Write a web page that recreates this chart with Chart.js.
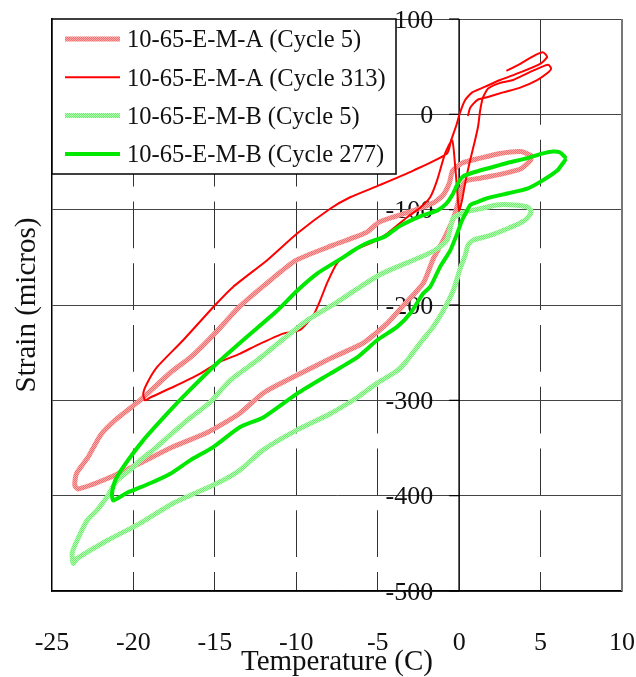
<!DOCTYPE html>
<html>
<head>
<meta charset="utf-8">
<script src="https://cdn.jsdelivr.net/npm/chart.js@4.4.0/dist/chart.umd.min.js"></script>
<style>
  html, body { margin: 0; padding: 0; background: #fff; }
  #wrap { width: 636px; height: 677px; position: relative; }
</style>
</head>
<body>
<div id="wrap"><canvas id="chart"></canvas></div>
<script>
// series names
const seriesNames = [
  "10-65-E-M-A (Cycle 5)",
  "10-65-E-M-A (Cycle 313)",
  "10-65-E-M-B (Cycle 5)",
  "10-65-E-M-B (Cycle 277)",
];

// 10-65-E-M-A, cycle 5 (temperature C / strain micros)
const aC5Temp = [4.4, 3.8, 2.5, 1.3, 0.2, -0.4, -0.6, -1.0, -1.6, -2.8, -4.9, -5.7, -7.7, -10.0, -11.8, -13.5, -14.9, -16.5, -17.6, -19.6, -21.0, -22.0, -22.8, -23.5, -23.6, -23.4,
  -21.6, -19.6, -17.6, -15.5, -13.5, -12.0, -10.0, -7.9, -5.9, -4.4, -3.4, -2.2, -1.6, -1.0, -0.4, -0.1, 0.1, 0.4, 1.3, 2.5, 3.8, 4.4, 4.4];
const aC5Strain = [-43, -39, -41, -46, -51, -59, -72, -85, -93, -101, -113, -124, -137, -153, -177, -202, -228, -255, -269, -300, -319, -336, -360, -377, -389, -393,
  -382, -366, -349, -334, -314, -292, -274, -256, -240, -219, -200, -177, -152, -133, -111, -95, -80, -70, -67, -63, -57, -48, -43];

// 10-65-E-M-A, cycle 313
const aC313Temp = [2.95, 3.75, 4.67, 5.16, 5.4, 4.97, 3.75, 2.52, 1.6, 0.8, 0.37, 0.06, -0.18, -0.49, -0.74, -2.82, -4.85, -6.69, -7.92, -9.95,
  -11.79, -13.88, -14.98, -16.95, -18.54, -19.16, -19.4, -19.28, -18.97, -17.56, -15.9, -14.86, -13.45, -12.4, -10.81, -9.76, -8.96, -8.53, -8.11, -7.49,
  -6.51, -5.28, -4.42, -3.19, -2.39, -1.78, -1.35, -0.86, -0.43, -0.25, -0.12, 0, 0.18, 0.37, 0.68, 0.98, 1.17, 1.29, 1.47, 1.78,
  2.52, 3.32, 4.18, 4.97, 5.47, 5.65, 5.4, 4.79, 3.75, 2.7, 1.72, 1.11, 0.68, 0.55];
const aC313Strain = [46, 53, 62, 65, 60, 53, 44, 36, 29, 23, 15, 2, -12, -27, -41, -59, -74, -87, -99, -125,
  -153, -181, -200, -237, -265, -282, -293, -300, -297, -286, -272, -261, -251, -242, -230, -226, -211, -195, -177, -156,
  -143, -134, -125, -108, -98, -87, -69, -41, -27, -53, -80, -101, -90, -72, -48, -27, -12, 4, 18, 27,
  33, 36, 43, 49, 52, 48, 43, 36, 28, 23, 18, 15, 7, -1];

// 10-65-E-M-B, cycle 5
const bC5Temp = [4.42, 4.18, 3.32, 2.33, 1.29, 0.25, -0.37, -0.55, -0.74, -1.35, -2.39, -3.81, -4.85, -6.08, -7.49, -9.33, -10.81, -12.4, -14.06, -15.29,
  -16.7, -17.93, -18.79, -19.59, -20.2, -21.0, -21.61, -22.22, -22.84, -23.46, -23.76, -23.7,
  -23.46, -21.61, -19.59, -17.56, -14.86, -13.45, -12.03, -9.95, -7.92, -6.26, -5.04, -3.81, -3.19, -2.39, -1.6, -0.98, -0.37, 0.06,
  0.37, 0.55, 0.86, 1.9, 2.95, 3.75, 4.18, 4.42];
const bC5Strain = [-101, -97, -95, -95, -99, -103, -109, -120, -132, -141, -150, -160, -168, -181, -197, -216, -236, -258, -279, -302,
  -321, -339, -352, -363, -373, -384, -401, -415, -426, -447, -460, -471,
  -466, -447, -429, -408, -387, -373, -352, -331, -314, -297, -282, -269, -258, -240, -223, -206, -185, -162,
  -148, -137, -132, -127, -120, -114, -109, -103];

// 10-65-E-M-B, cycle 277
const bC277Temp = [6.51, 6.2, 5.77, 5.16, 4.18, 2.95, 1.9, 0.86, 0.25, -0.06, -0.43, -0.8, -1.35, -2.39, -3.62, -4.54, -5.65, -6.51, -7.12, -8.72,
  -9.95, -11.18, -13.08, -14.67, -16.7, -17.93, -19.4, -20.63, -21.12, -21.31, -21.25,
  -20.39, -18.97, -17.74, -16.52, -15.1, -13.45, -12.03, -9.95, -7.92, -6.26, -5.04, -3.81, -3.01, -2.21, -1.78, -1.17, -0.55, -0.12, 0.18,
  0.49, 0.68, 1.11, 1.72, 2.95, 4.18, 5.16, 6.02, 6.51];
const bC277Strain = [-45, -40, -39, -41, -46, -51, -56, -61, -65, -72, -85, -94, -101, -107, -117, -128, -135, -143, -150, -167,
  -185, -206, -234, -258, -292, -314, -342, -370, -384, -397, -405,
  -397, -387, -377, -363, -349, -328, -318, -293, -272, -255, -237, -223, -209, -188, -181, -160, -143, -125, -111,
  -101, -95, -92, -88, -83, -78, -69, -59, -48];

const serif = "'Liberation Serif', 'DejaVu Serif', serif";
const textColor = "#111";

function toPoints(t, s) {
  return t.map((x, i) => ({ x: x, y: s[i] }));
}

// little checker texture, like the hatched thick lines of the original
function dither(c1, c2) {
  const c = document.createElement("canvas");
  c.width = 2;
  c.height = 2;
  const g = c.getContext("2d");
  g.fillStyle = c1;
  g.fillRect(0, 0, 2, 2);
  g.fillStyle = c2;
  g.fillRect(1, 0, 1, 1);
  g.fillRect(0, 1, 1, 1);
  return g.createPattern(c, "repeat");
}

function line(ctx, x1, y1, x2, y2) {
  ctx.beginPath();
  ctx.moveTo(x1, y1);
  ctx.lineTo(x2, y2);
  ctx.stroke();
}

// axis at 0 C, right frame, y labels next to the axis, boxed legend
const frameAndLabels = {
  id: "frameAndLabels",
  beforeDatasetsDraw(chart) {
    const { ctx, chartArea: a, scales } = chart;
    const x0 = scales.x.getPixelForValue(0);
    const xr = scales.x.getPixelForValue(10);
    ctx.save();
    ctx.strokeStyle = "#777";
    ctx.lineWidth = 2;
    line(ctx, xr, a.top, xr, a.bottom);
    ctx.strokeStyle = "#000";
    ctx.lineWidth = 1.5;
    line(ctx, x0, a.top, x0, a.bottom);
    ctx.font = "26px " + serif;
    ctx.fillStyle = textColor;
    ctx.textAlign = "right";
    ctx.textBaseline = "middle";
    scales.y.ticks.forEach((t) => {
      const py = scales.y.getPixelForValue(t.value);
      ctx.lineWidth = 1.2;
      line(ctx, x0 - 10, py, x0, py);
      ctx.fillText(t.label, x0 - 26, py + 2);
    });
    ctx.restore();
  },
  afterDraw(chart) {
    const { ctx, chartArea: a } = chart;
    ctx.save();
    ctx.fillStyle = "#fff";
    ctx.fillRect(a.left, a.top, 344, 155);
    ctx.strokeStyle = "#000";
    ctx.lineWidth = 1.5;
    ctx.strokeRect(a.left, a.top, 344, 155);
    ctx.font = "24.5px " + serif;
    ctx.textAlign = "left";
    ctx.textBaseline = "middle";
    chart.data.datasets.forEach((ds, i) => {
      const ly = a.top + 20 + i * 38.3;
      ctx.strokeStyle = ds.borderColor;
      ctx.lineWidth = ds.borderWidth;
      line(ctx, a.left + 13, ly, a.left + 68, ly);
      ctx.fillStyle = textColor;
      ctx.fillText(ds.label, a.left + 75, ly + 2);
    });
    ctx.restore();
  },
};

const canvas = document.getElementById("chart");
const lightRed = dither("#f07070", "#ffaaaa");
const lightGreen = dither("#70ec70", "#b4ffb4");

new Chart(canvas, {
  type: "scatter",
  data: {
    datasets: [
      { label: seriesNames[0], data: toPoints(aC5Temp, aC5Strain), borderColor: lightRed, borderWidth: 5, order: 4 },
      { label: seriesNames[1], data: toPoints(aC313Temp, aC313Strain), borderColor: "#ff0000", borderWidth: 2, order: 3 },
      { label: seriesNames[2], data: toPoints(bC5Temp, bC5Strain), borderColor: lightGreen, borderWidth: 5, order: 2 },
      { label: seriesNames[3], data: toPoints(bC277Temp, bC277Strain), borderColor: "#00e800", borderWidth: 4, order: 1 },
    ],
  },
  options: {
    responsive: true,
    maintainAspectRatio: false,
    animation: false,
    showLine: true,
    layout: { padding: { top: 19, right: 14, left: 0, bottom: 0 } },
    elements: {
      point: { radius: 0, hoverRadius: 0 },
      line: { tension: 0.2, borderJoinStyle: "round", borderCapStyle: "round" },
    },
    plugins: {
      legend: { display: false },
      tooltip: { enabled: false },
    },
    scales: {
      x: {
        type: "linear",
        position: "bottom",
        min: -25,
        max: 10,
        afterFit: (s) => { s.height = 86; },
        ticks: {
          stepSize: 5,
          autoSkip: false,
          maxRotation: 0,
          padding: 0,
          color: textColor,
          font: { family: serif, size: 26 },
        },
        grid: {
          drawTicks: true,
          tickLength: 37,
          tickColor: "rgba(0,0,0,0)",
          lineWidth: 1,
          color: (c) => ([-25, 0, 10].includes(c.tick && c.tick.value) ? "rgba(0,0,0,0)" : "#333"),
        },
        border: { display: true, color: "#000", width: 1.5, dash: [46.75, 15], dashOffset: 2.75 },
        title: {
          display: true,
          text: "Temperature (C)",
          color: textColor,
          font: { family: serif, size: 29 },
          padding: { top: 0, bottom: -3 },
        },
      },
      y: {
        type: "linear",
        position: "left",
        min: -500,
        max: 100,
        afterFit: (s) => { s.width = 52; },
        ticks: { stepSize: 100, display: false },
        grid: { drawTicks: false, lineWidth: 1, color: "#444" },
        border: { display: true, color: "#000", width: 1.5 },
        title: {
          display: true,
          text: "Strain (micros)",
          color: textColor,
          font: { family: serif, size: 29 },
          padding: { top: 10, bottom: 0 },
        },
      },
    },
  },
  plugins: [frameAndLabels],
});
</script>
</body>
</html>
